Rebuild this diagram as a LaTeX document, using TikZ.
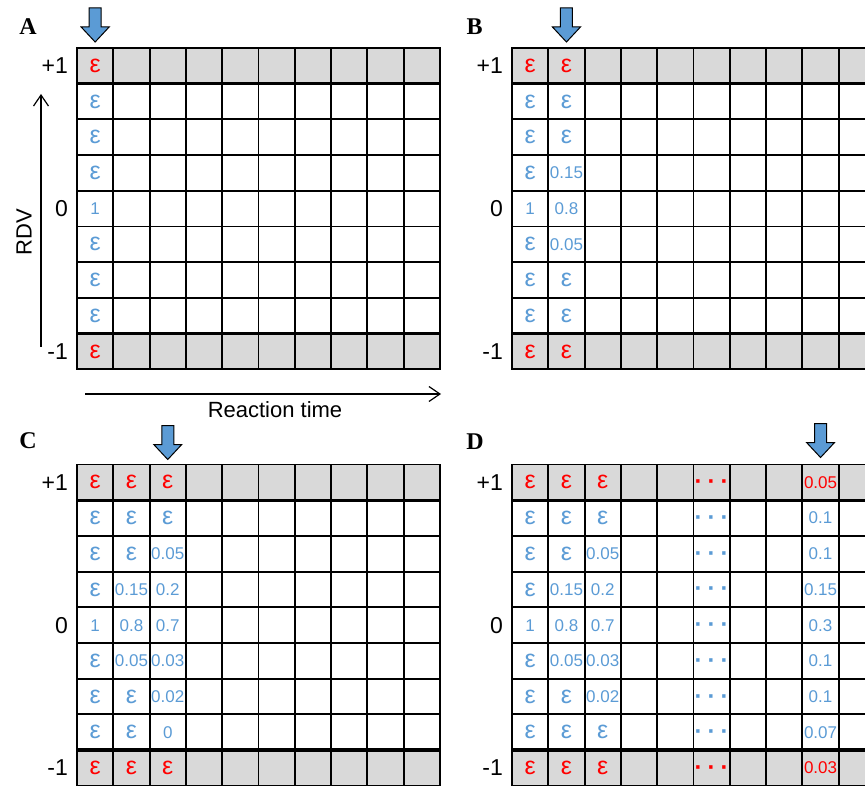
\documentclass[tikz,border=0pt]{standalone}
\usepackage{fontspec}
\setmainfont{Liberation Sans}
\newfontfamily\panelfont{Liberation Serif}
\usetikzlibrary{arrows.meta, positioning}

\definecolor{cellblue}{RGB}{91,155,213}
\definecolor{bandgray}{RGB}{217,217,217}

\def\cw{36.3}
\def\ch{35.7}
\newcommand{\eps}{{\fontsize{25}{25}\selectfont ε}}
\newcommand{\skipdots}{{\fontsize{24}{24}\selectfont\bfseries\raisebox{0pt}[15pt][0pt]{·\kern5pt·\kern5pt·}}}

% empty grid of one panel, grey rows for the bounds
\newcommand{\rdvgrid}{%
  \fill[bandgray] (0,0) rectangle ({10*\cw},\ch);
  \fill[bandgray] (0,{8*\ch}) rectangle ({10*\cw},{9*\ch});
  \foreach \c in {1,...,9} \draw[gridline] ({\c*\cw},0) -- ({\c*\cw},{9*\ch});
  \foreach \r in {2,3,...,7} \draw[gridline] (0,{\r*\ch}) -- ({10*\cw},{\r*\ch});
  \draw[gridline] (0,0) rectangle ({10*\cw},{9*\ch});
  \draw[bandline] (0,\ch) -- ({10*\cw},\ch);
  \draw[bandline] (0,{8*\ch}) -- ({10*\cw},{8*\ch});
  \node[bound] (\pname-top) at (-9,{0.5*\ch}) {+1};
  \node[bound] (\pname-mid) at (-9,{4.5*\ch}) {0};
  \node[bound] (\pname-low) at (-9,{8.5*\ch}) {-1};
}

% one column of values, top to bottom
\newcommand{\cellcolumn}[2]{%
  \foreach \val [count=\r] in {#2} {
    \ifnum\r=1 \def\tone{red}\else\ifnum\r=9 \def\tone{red}\else\def\tone{cellblue}\fi\fi
    \node[cell, text=\tone] (\pname-#1-\r) at ({(#1-0.5)*\cw},{(\r-0.5)*\ch}) {\val};
  }
}

\begin{document}
\begin{tikzpicture}[x=1pt, y=-1pt,
    gridline/.style={black, line width=1.9pt},
    bandline/.style={black, line width=3.4pt},
    cell/.style={inner sep=0pt, font=\fontsize{17}{17}\selectfont},
    bound/.style={anchor=east, inner sep=0pt, font=\fontsize{23}{23}\selectfont},
    axislabel/.style={inner sep=0pt, font=\fontsize{22}{22}\selectfont},
    panellabel/.style={inner sep=0pt, font=\fontsize{24}{24}\selectfont\panelfont\bfseries},
    axis/.style={line width=1.2pt, -{Straight Barb[length=11pt, width=15pt]}},
    stepmark/.pic={\draw[black, line width=1pt, fill=cellblue]
        (-6,-34) -- (6,-34) -- (6,-15) -- (14,-15) -- (0,0) -- (-14,-15) -- (-6,-15) -- cycle;}]
  \clip (0,0) rectangle (865,786);

  % Panel A
  \begin{scope}[shift={(77,48)}]
    \def\pname{A}
    \rdvgrid
    \cellcolumn{1}{\eps,\eps,\eps,\eps,1,\eps,\eps,\eps,\eps}
    \pic (A-mark) at ({0.5*\cw},-6) {stepmark};
  \end{scope}
  \node[panellabel] (A-label) at (28,27) {A};

  % Achsen
  \coordinate (rdv-low) at (41,347);
  \coordinate (rdv-high) at (41,94);
  \draw[axis] (rdv-low) -- (rdv-high);
  \node[axislabel, rotate=90] (rdv-label) at (24,232) {RDV};
  \coordinate (time-start) at (85,394);
  \coordinate (time-end) at (441,394);
  \draw[axis] (time-start) -- (time-end);
  \node[axislabel] (time-label) at (275,410) {Reaction time};

  % Panel B
  \begin{scope}[shift={(512,48)}]
    \def\pname{B}
    \rdvgrid
    \cellcolumn{1}{\eps,\eps,\eps,\eps,1,\eps,\eps,\eps,\eps}
    \cellcolumn{2}{\eps,\eps,\eps,0.15,0.8,0.05,\eps,\eps,\eps}
    \pic (B-mark) at ({1.5*\cw},-6) {stepmark};
  \end{scope}
  \node[panellabel] (B-label) at (474.5,27) {B};

  % Panel C
  \begin{scope}[shift={(77,464.5)}]
    \def\pname{C}
    \rdvgrid
    \cellcolumn{1}{\eps,\eps,\eps,\eps,1,\eps,\eps,\eps,\eps}
    \cellcolumn{2}{\eps,\eps,\eps,0.15,0.8,0.05,\eps,\eps,\eps}
    \cellcolumn{3}{\eps,\eps,0.05,0.2,0.7,0.03,0.02,0,\eps}
    \pic (C-mark) at ({2.5*\cw},-5) {stepmark};
  \end{scope}
  \node[panellabel] (C-label) at (28,441) {C};

  % Panel D
  \begin{scope}[shift={(512,464.5)}]
    \def\pname{D}
    \rdvgrid
    \cellcolumn{1}{\eps,\eps,\eps,\eps,1,\eps,\eps,\eps,\eps}
    \cellcolumn{2}{\eps,\eps,\eps,0.15,0.8,0.05,\eps,\eps,\eps}
    \cellcolumn{3}{\eps,\eps,0.05,0.2,0.7,0.03,0.02,\eps,\eps}
    \cellcolumn{6}{\skipdots,\skipdots,\skipdots,\skipdots,\skipdots,\skipdots,\skipdots,\skipdots,\skipdots}
    \cellcolumn{9}{0.05,0.1,0.1,0.15,0.3,0.1,0.1,0.07,0.03}
    \pic (D-mark) at ({8.5*\cw},-7) {stepmark};
  \end{scope}
  \node[panellabel] (D-label) at (475,441.5) {D};
\end{tikzpicture}
\end{document}
